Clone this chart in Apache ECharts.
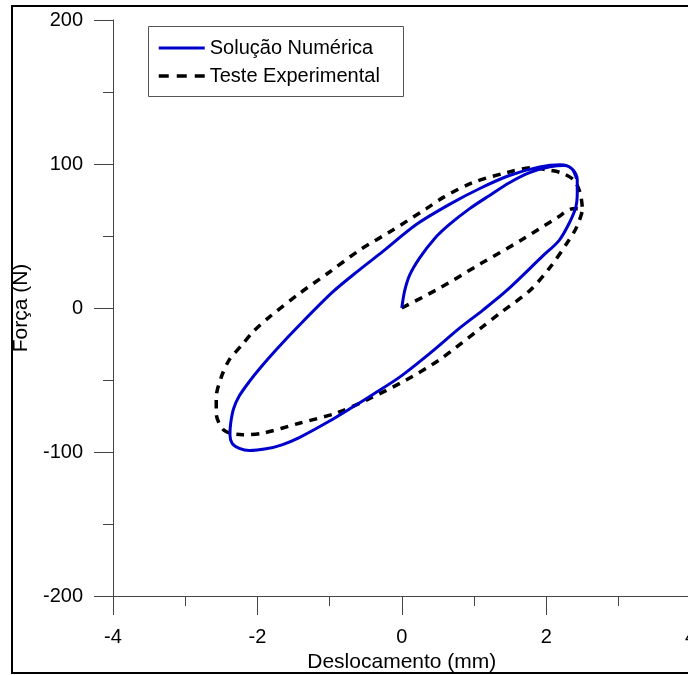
<!DOCTYPE html>
<html>
<head>
<meta charset="utf-8">
<script src="https://cdn.jsdelivr.net/npm/echarts@6/dist/echarts.min.js"></script>
<style>
html,body{margin:0;padding:0;background:#fff;}
#chart{width:688px;height:675px;}
</style>
</head>
<body>
<div id="chart"></div>
<script>
// Series names
const seriesNames = ['Solução Numérica', 'Teste Experimental'];

// Numerical solution: displacement (mm)
const numX = [0, 0.04, 0.11, 0.25, 0.45, 0.66, 0.94, 1.21, 1.49, 1.77, 2.05, 2.25, 2.37, 2.43, 2.43, 2.41, 2.32, 2.18, 1.95, 1.45, 1.12, 0.80, 0.40, -0.03, -0.40, -0.72, -1.0, -1.42, -1.66, -1.88, -2.11, -2.25, -2.35, -2.38, -2.37, -2.33, -2.25, -2.11, -1.95, -1.74, -1.42, -0.96, -0.60, -0.27, 0.20, 0.66, 1.08, 1.49, 1.91, 2.20, 2.35, 2.42];
// Numerical solution: force (N)
const numY = [0, 12, 23, 35, 48, 58, 69, 78, 87, 94, 98, 99, 96, 89, 80, 70, 59, 47, 36, 12, -1.6, -14, -31, -48, -60, -70, -78.5, -90, -95, -97.8, -99, -97.5, -94, -88, -80, -70, -61, -51, -41, -29, -12, 11, 26, 39, 58, 72, 83, 92, 98, 99.5, 97, 90];

// Experimental test: displacement (mm)
const expX = [0, 0.53, 1.10, 1.65, 2.16, 2.37, 2.50, 2.42, 2.30, 2.05, 1.77, 1.35, 1.12, 0.52, 0.06, -0.45, -0.91, -1.42, -1.93, -2.20, -2.46, -2.57, -2.57, -2.50, -2.39, -2.22, -2.05, -1.84, -1.42, -1.0, -0.59, -0.13, 0.34, 0.58, 0.98, 1.45, 1.81, 2.0, 2.20, 2.38, 2.47, 2.50];
// Experimental test: force (N)
const expY = [0, 14, 31, 47, 63, 69, 68, 56, 46, 28, 12, -4, -13, -36, -50, -63, -73, -80, -87, -88, -85, -73, -62, -48, -36, -26, -16, -6.5, 10, 25, 40, 54, 69, 77, 87, 94, 97.5, 96, 94, 89, 80, 70];

// Axis settings
const xTicks = {min: -4, max: 4, interval: 2};
const yTicks = {min: -200, max: 200, interval: 100};

const numData = numX.map((x, i) => [x, numY[i]]);
const expData = expX.map((x, i) => [x, expY[i]]);

const chart = echarts.init(document.getElementById('chart'));
const font = 'Arial, "Liberation Sans", sans-serif';
const axisColor = '#444';

chart.setOption({
  backgroundColor: '#fff',
  animation: false,
  grid: {left: 113, top: 20, width: 577.6, height: 576, outerBoundsMode: 'none', containLabel: false},
  graphic: [
    {type: 'rect', shape: {x: 12, y: 6, width: 700, height: 667}, style: {fill: 'none', stroke: '#000', lineWidth: 2}, z: 0},
    {type: 'rect', shape: {x: 148.5, y: 26.5, width: 255, height: 70}, style: {fill: '#fff', stroke: '#555', lineWidth: 1}, z: 1}
  ],
  legend: {
    orient: 'vertical',
    left: 157, top: 38,
    padding: 0,
    itemWidth: 46, itemHeight: 14, itemGap: 8,
    itemStyle: {opacity: 0},
    textStyle: {fontFamily: font, fontSize: 20, color: '#000'},
    data: [
      {name: seriesNames[0], lineStyle: {width: 3, color: '#0000cc'}},
      {name: seriesNames[1], lineStyle: {width: 3.5, color: '#000', type: [10, 8]}}
    ],
    z: 5
  },
  xAxis: {
    type: 'value', min: xTicks.min, max: xTicks.max, interval: xTicks.interval,
    name: 'Deslocamento (mm)', nameLocation: 'middle', nameGap: 54,
    nameTextStyle: {fontFamily: font, fontSize: 21, color: '#000'},
    axisLine: {show: true, onZero: false, lineStyle: {color: axisColor, width: 1}},
    axisTick: {show: true, length: 19, lineStyle: {color: axisColor}},
    minorTick: {show: true, splitNumber: 2, length: 10, lineStyle: {color: axisColor}},
    axisLabel: {margin: 31, fontFamily: font, fontSize: 20, color: '#000'},
    splitLine: {show: false}
  },
  yAxis: {
    type: 'value', min: yTicks.min, max: yTicks.max, interval: yTicks.interval,
    name: 'Força (N)', nameLocation: 'middle', nameGap: 77,
    nameTextStyle: {fontFamily: font, fontSize: 21, color: '#000'},
    axisLine: {show: true, onZero: false, lineStyle: {color: axisColor, width: 1}},
    axisTick: {show: true, length: 19, lineStyle: {color: axisColor}},
    minorTick: {show: true, splitNumber: 2, length: 10, lineStyle: {color: axisColor}},
    axisLabel: {margin: 30, fontFamily: font, fontSize: 20, color: '#000'},
    splitLine: {show: false}
  },
  series: [
    {
      name: seriesNames[0], type: 'line', data: numData, smooth: 0.3, showSymbol: false, symbol: 'none',
      lineStyle: {color: '#0000cc', width: 3}, itemStyle: {color: '#0000cc'}, z: 3
    },
    {
      name: seriesNames[1], type: 'line', data: expData, smooth: 0.3, showSymbol: false, symbol: 'none',
      lineStyle: {color: '#000', width: 3.5, type: [8, 7]}, itemStyle: {color: '#000'}, z: 2
    }
  ]
});
</script>
</body>
</html>
